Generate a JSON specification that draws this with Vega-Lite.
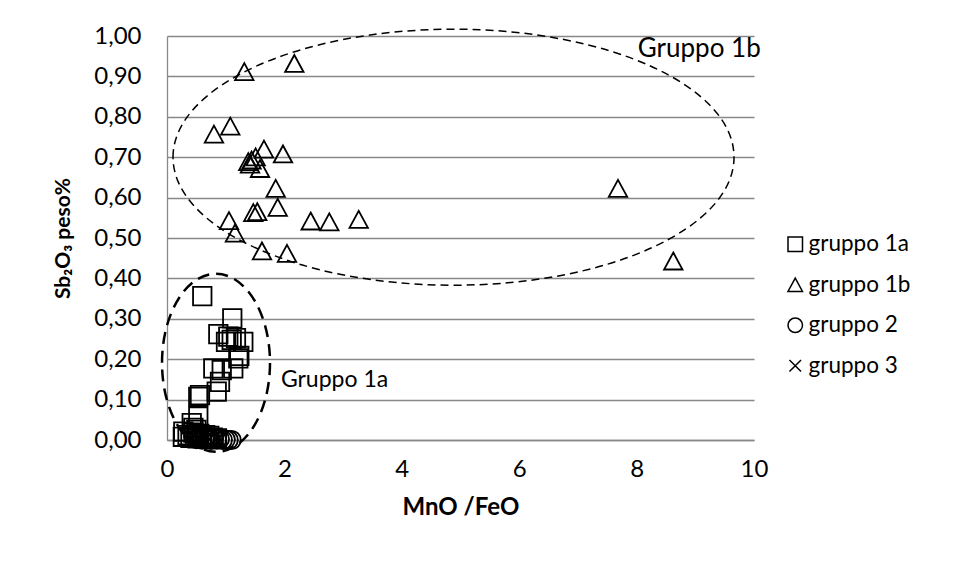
{
  "$schema": "https://vega.github.io/schema/vega-lite/v6.json",
  "width": 587,
  "height": 404,
  "autosize": {"type": "none"},
  "padding": {"left": 167, "top": 36, "right": 204, "bottom": 139},
  "background": "white",
  "config": {
    "font": "Lato",
    "view": {"stroke": null},
    "axis": {
      "labelColor": "black",
      "titleColor": "black",
      "domainColor": "#888888",
      "domainWidth": 1.3,
      "gridColor": "#888888",
      "gridWidth": 1.3,
      "ticks": false,
      "labelFlush": false,
      "labelFontSize": 24,
      "titleFontSize": 24,
      "titleFontWeight": "bold"
    }
  },
  "datasets": {
    "campioni": [
      {"gruppo": "gruppo 1b", "mno_feo": 1.317, "sb2o3": 0.912},
      {"gruppo": "gruppo 1b", "mno_feo": 2.169, "sb2o3": 0.932},
      {"gruppo": "gruppo 1b", "mno_feo": 0.80, "sb2o3": 0.757},
      {"gruppo": "gruppo 1b", "mno_feo": 1.078, "sb2o3": 0.777},
      {"gruppo": "gruppo 1b", "mno_feo": 1.652, "sb2o3": 0.720},
      {"gruppo": "gruppo 1b", "mno_feo": 1.976, "sb2o3": 0.708},
      {"gruppo": "gruppo 1b", "mno_feo": 1.385, "sb2o3": 0.689},
      {"gruppo": "gruppo 1b", "mno_feo": 1.44, "sb2o3": 0.693},
      {"gruppo": "gruppo 1b", "mno_feo": 1.51, "sb2o3": 0.701},
      {"gruppo": "gruppo 1b", "mno_feo": 1.584, "sb2o3": 0.672},
      {"gruppo": "gruppo 1b", "mno_feo": 1.414, "sb2o3": 0.683},
      {"gruppo": "gruppo 1b", "mno_feo": 1.852, "sb2o3": 0.623},
      {"gruppo": "gruppo 1b", "mno_feo": 1.886, "sb2o3": 0.576},
      {"gruppo": "gruppo 1b", "mno_feo": 1.47, "sb2o3": 0.563},
      {"gruppo": "gruppo 1b", "mno_feo": 1.538, "sb2o3": 0.565},
      {"gruppo": "gruppo 1b", "mno_feo": 1.056, "sb2o3": 0.543},
      {"gruppo": "gruppo 1b", "mno_feo": 1.158, "sb2o3": 0.512},
      {"gruppo": "gruppo 1b", "mno_feo": 2.448, "sb2o3": 0.542},
      {"gruppo": "gruppo 1b", "mno_feo": 2.765, "sb2o3": 0.540},
      {"gruppo": "gruppo 1b", "mno_feo": 3.266, "sb2o3": 0.546},
      {"gruppo": "gruppo 1b", "mno_feo": 1.618, "sb2o3": 0.468},
      {"gruppo": "gruppo 1b", "mno_feo": 2.044, "sb2o3": 0.462},
      {"gruppo": "gruppo 1b", "mno_feo": 7.683, "sb2o3": 0.623},
      {"gruppo": "gruppo 1b", "mno_feo": 8.625, "sb2o3": 0.443},
      {"gruppo": "gruppo 1a", "mno_feo": 0.601, "sb2o3": 0.356},
      {"gruppo": "gruppo 1a", "mno_feo": 1.112, "sb2o3": 0.301},
      {"gruppo": "gruppo 1a", "mno_feo": 0.874, "sb2o3": 0.262},
      {"gruppo": "gruppo 1a", "mno_feo": 1.044, "sb2o3": 0.256},
      {"gruppo": "gruppo 1a", "mno_feo": 1.102, "sb2o3": 0.248},
      {"gruppo": "gruppo 1a", "mno_feo": 1.30, "sb2o3": 0.243},
      {"gruppo": "gruppo 1a", "mno_feo": 1.005, "sb2o3": 0.243},
      {"gruppo": "gruppo 1a", "mno_feo": 1.175, "sb2o3": 0.252},
      {"gruppo": "gruppo 1a", "mno_feo": 1.232, "sb2o3": 0.208},
      {"gruppo": "gruppo 1a", "mno_feo": 1.215, "sb2o3": 0.202},
      {"gruppo": "gruppo 1a", "mno_feo": 0.789, "sb2o3": 0.177},
      {"gruppo": "gruppo 1a", "mno_feo": 0.932, "sb2o3": 0.173},
      {"gruppo": "gruppo 1a", "mno_feo": 1.129, "sb2o3": 0.177},
      {"gruppo": "gruppo 1a", "mno_feo": 0.903, "sb2o3": 0.144},
      {"gruppo": "gruppo 1a", "mno_feo": 0.847, "sb2o3": 0.120},
      {"gruppo": "gruppo 1a", "mno_feo": 0.562, "sb2o3": 0.111},
      {"gruppo": "gruppo 1a", "mno_feo": 0.533, "sb2o3": 0.107},
      {"gruppo": "gruppo 1a", "mno_feo": 0.533, "sb2o3": 0.058},
      {"gruppo": "gruppo 1a", "mno_feo": 0.421, "sb2o3": 0.042},
      {"gruppo": "gruppo 1a", "mno_feo": 0.278, "sb2o3": 0.021},
      {"gruppo": "gruppo 1a", "mno_feo": 0.27, "sb2o3": 0.008},
      {"gruppo": "gruppo 1a", "mno_feo": 0.35, "sb2o3": 0.012},
      {"gruppo": "gruppo 1a", "mno_feo": 0.40, "sb2o3": 0.005},
      {"gruppo": "gruppo 1a", "mno_feo": 0.45, "sb2o3": 0.018},
      {"gruppo": "gruppo 1a", "mno_feo": 0.48, "sb2o3": 0.010},
      {"gruppo": "gruppo 1a", "mno_feo": 0.52, "sb2o3": 0.004},
      {"gruppo": "gruppo 1a", "mno_feo": 0.55, "sb2o3": 0.015},
      {"gruppo": "gruppo 1a", "mno_feo": 0.60, "sb2o3": 0.008},
      {"gruppo": "gruppo 1a", "mno_feo": 0.65, "sb2o3": 0.012},
      {"gruppo": "gruppo 1a", "mno_feo": 0.68, "sb2o3": 0.004},
      {"gruppo": "gruppo 1a", "mno_feo": 0.72, "sb2o3": 0.010},
      {"gruppo": "gruppo 1a", "mno_feo": 0.78, "sb2o3": 0.006},
      {"gruppo": "gruppo 1a", "mno_feo": 0.45, "sb2o3": 0.030},
      {"gruppo": "gruppo 1a", "mno_feo": 0.50, "sb2o3": 0.025},
      {"gruppo": "gruppo 1a", "mno_feo": 0.85, "sb2o3": 0.004},
      {"gruppo": "gruppo 2", "mno_feo": 0.50, "sb2o3": 0.002},
      {"gruppo": "gruppo 2", "mno_feo": 0.55, "sb2o3": 0.003},
      {"gruppo": "gruppo 2", "mno_feo": 0.60, "sb2o3": 0.001},
      {"gruppo": "gruppo 2", "mno_feo": 0.66, "sb2o3": 0.004},
      {"gruppo": "gruppo 2", "mno_feo": 0.70, "sb2o3": 0.002},
      {"gruppo": "gruppo 2", "mno_feo": 0.75, "sb2o3": 0.000},
      {"gruppo": "gruppo 2", "mno_feo": 0.80, "sb2o3": 0.003},
      {"gruppo": "gruppo 2", "mno_feo": 0.85, "sb2o3": 0.001},
      {"gruppo": "gruppo 2", "mno_feo": 0.90, "sb2o3": 0.002},
      {"gruppo": "gruppo 2", "mno_feo": 0.95, "sb2o3": 0.000},
      {"gruppo": "gruppo 2", "mno_feo": 1.00, "sb2o3": 0.001},
      {"gruppo": "gruppo 2", "mno_feo": 1.05, "sb2o3": 0.000},
      {"gruppo": "gruppo 2", "mno_feo": 1.10, "sb2o3": 0.000},
      {"gruppo": "gruppo 3", "mno_feo": 0.50, "sb2o3": 0.003},
      {"gruppo": "gruppo 3", "mno_feo": 0.58, "sb2o3": 0.002},
      {"gruppo": "gruppo 3", "mno_feo": 0.65, "sb2o3": 0.001},
      {"gruppo": "gruppo 3", "mno_feo": 0.72, "sb2o3": 0.002}
    ],
    "insiemi": [
      {"insieme": "Gruppo 1b", "mno_feo": 4.881, "sb2o3": 0.700},
      {"insieme": "Gruppo 1a", "mno_feo": 0.835, "sb2o3": 0.191}
    ],
    "etichette": [
      {"testo": "Gruppo 1b", "mno_feo": 8.02, "sb2o3": 0.968},
      {"testo": "Gruppo 1a", "mno_feo": 1.94, "sb2o3": 0.149}
    ]
  },
  "layer": [
    {
      "data": {"name": "campioni"},
      "mark": {"type": "point", "filled": false, "color": "black", "opacity": 1, "strokeWidth": 1.8, "size": 340},
      "encoding": {
        "x": {
          "field": "mno_feo",
          "type": "quantitative",
          "scale": {"domain": [0, 10], "nice": false, "zero": false},
          "axis": {
            "values": [0, 2, 4, 6, 8, 10],
            "format": "d",
            "grid": false,
            "labelPadding": 17,
            "title": "MnO /FeO",
            "titlePadding": 14
          }
        },
        "y": {
          "field": "sb2o3",
          "type": "quantitative",
          "scale": {"domain": [0, 1], "nice": false},
          "axis": {
            "values": [0, 0.1, 0.2, 0.3, 0.4, 0.5, 0.6, 0.7, 0.8, 0.9, 1],
            "labelExpr": "replace(format(datum.value, '.2f'), '.', ',')",
            "labelPadding": 26,
            "title": "Sb₂O₃ peso%",
            "titleFontSize": 21,
            "titlePadding": 20
          }
        },
        "shape": {
          "field": "gruppo",
          "type": "nominal",
          "scale": {
            "domain": ["gruppo 1a", "gruppo 1b", "gruppo 2", "gruppo 3"],
            "range": ["square", "M0,-0.92L1,0.92L-1,0.92Z", "circle", "M-0.8,-0.8L0.8,0.8M0.8,-0.8L-0.8,0.8"]
          },
          "legend": {
            "title": null,
            "orient": "none",
            "legendX": 617,
            "legendY": 197,
            "padding": 0,
            "labelFontSize": 22.5,
            "labelColor": "black",
            "labelOffset": 2,
            "symbolSize": 210,
            "symbolStrokeWidth": 1.5,
            "symbolStrokeColor": "black",
            "symbolFillColor": "transparent",
            "rowPadding": 17.5
          }
        }
      }
    },
    {
      "data": {"name": "insiemi"},
      "transform": [{"filter": "datum.insieme === 'Gruppo 1b'"}],
      "mark": {
        "type": "point",
        "filled": false,
        "color": "black",
        "opacity": 1,
        "strokeWidth": 1.5,
        "strokeDash": [8, 5],
        "size": 314721,
        "shape": "M-1,0C-1,-0.252,-0.5523,-0.4563,0,-0.4563C0.5523,-0.4563,1,-0.252,1,0C1,0.252,0.5523,0.4563,0,0.4563C-0.5523,0.4563,-1,0.252,-1,0Z"
      },
      "encoding": {
        "x": {"field": "mno_feo", "type": "quantitative"},
        "y": {"field": "sb2o3", "type": "quantitative"}
      }
    },
    {
      "data": {"name": "insiemi"},
      "transform": [{"filter": "datum.insieme === 'Gruppo 1a'"}],
      "mark": {
        "type": "point",
        "filled": false,
        "color": "black",
        "opacity": 1,
        "strokeWidth": 2.5,
        "strokeDash": [12, 7],
        "size": 31684,
        "shape": "M-0.6067,0C-0.6067,-0.5523,-0.3351,-1,0,-1C0.3351,-1,0.6067,-0.5523,0.6067,0C0.6067,0.5523,0.3351,1,0,1C-0.3351,1,-0.6067,0.5523,-0.6067,0Z"
      },
      "encoding": {
        "x": {"field": "mno_feo", "type": "quantitative"},
        "y": {"field": "sb2o3", "type": "quantitative"}
      }
    },
    {
      "data": {"name": "etichette"},
      "mark": {"type": "text", "align": "left", "baseline": "middle", "color": "black"},
      "encoding": {
        "x": {"field": "mno_feo", "type": "quantitative"},
        "y": {"field": "sb2o3", "type": "quantitative"},
        "text": {"field": "testo"},
        "size": {"condition": {"test": "datum.testo === 'Gruppo 1a'", "value": 23}, "value": 26}
      }
    }
  ]
}
